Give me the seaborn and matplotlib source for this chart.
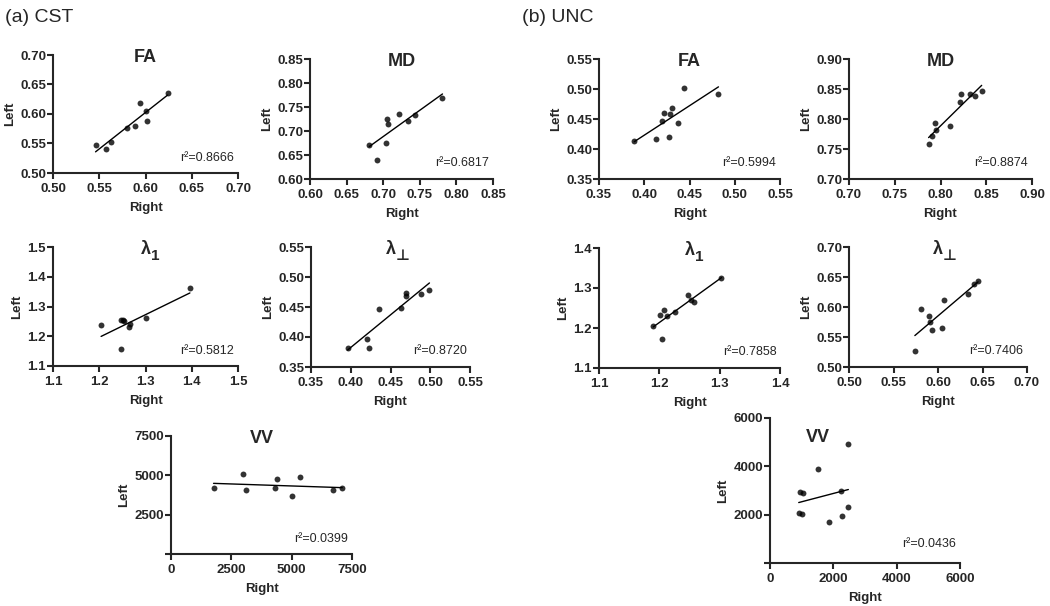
import matplotlib
matplotlib.use('Agg')
import matplotlib.pyplot as plt
import seaborn as sns
import numpy as np

sns.set_style('ticks')
plt.rcParams['font.family'] = ['Liberation Sans', 'DejaVu Sans']

TICK_FONT = dict(fontsize=9.5, fontweight='bold')

# ---- data: Right (x) vs Left (y) ----
cst_fa_right = [0.546, 0.557, 0.563, 0.580, 0.589, 0.594, 0.600, 0.602, 0.624]
cst_fa_left = [0.547, 0.540, 0.553, 0.576, 0.580, 0.619, 0.605, 0.588, 0.636]

cst_md_right = [0.681, 0.692, 0.704, 0.705, 0.707, 0.722, 0.734, 0.744, 0.781]
cst_md_left = [0.670, 0.639, 0.674, 0.726, 0.715, 0.736, 0.720, 0.733, 0.769]

cst_l1_right = [1.204, 1.247, 1.251, 1.253, 1.264, 1.267, 1.302, 1.396, 1.247]
cst_l1_left = [1.238, 1.254, 1.254, 1.251, 1.230, 1.241, 1.261, 1.363, 1.156]

cst_lp_right = [0.396, 0.423, 0.420, 0.435, 0.463, 0.469, 0.470, 0.488, 0.499]
cst_lp_left = [0.381, 0.382, 0.397, 0.446, 0.448, 0.469, 0.474, 0.471, 0.478]

cst_vv_right = [1763, 2986, 3097, 4319, 4375, 5000, 5333, 6696, 7097]
cst_vv_left = [4177, 5063, 4095, 4177, 4791, 3715, 4895, 4051, 4177]

unc_fa_right = [0.389, 0.413, 0.420, 0.422, 0.427, 0.429, 0.431, 0.437, 0.444, 0.482]
unc_fa_left = [0.413, 0.417, 0.446, 0.460, 0.420, 0.458, 0.469, 0.443, 0.501, 0.492]

unc_md_right = [0.787, 0.791, 0.794, 0.795, 0.810, 0.821, 0.822, 0.832, 0.838, 0.845]
unc_md_left = [0.758, 0.772, 0.793, 0.781, 0.788, 0.828, 0.841, 0.842, 0.839, 0.846]

unc_l1_right = [1.190, 1.201, 1.205, 1.208, 1.212, 1.226, 1.247, 1.252, 1.257, 1.303]
unc_l1_left = [1.204, 1.233, 1.173, 1.244, 1.229, 1.240, 1.282, 1.269, 1.266, 1.325]

unc_lp_right = [0.574, 0.581, 0.590, 0.591, 0.593, 0.604, 0.607, 0.634, 0.640, 0.645]
unc_lp_left = [0.527, 0.597, 0.585, 0.575, 0.561, 0.565, 0.611, 0.622, 0.639, 0.644]

unc_vv_right = [2455, 1507, 948, 1043, 2234, 2474, 907, 1001, 2283, 1864]
unc_vv_left = [4912, 3877, 2926, 2897, 2967, 2317, 2069, 2040, 1945, 1697]

W, H = 1050, 606
fig = plt.figure(figsize=(W / 100, H / 100), dpi=100)


def add_panel(box, right, left, xticks, yticks, fmt, title, r2, sub=None,
              hide_y0=False, title_xy=(0.5, 0.98)):
    l, r, t, b = box
    ax = fig.add_axes([l / W, 1 - b / H, (r - l) / W, (b - t) / H])
    sns.regplot(x=np.array(right), y=np.array(left), ax=ax, ci=None, color='black',
                scatter_kws=dict(s=18, linewidths=0), line_kws=dict(lw=1))
    ax.set_xlim(xticks[0], xticks[-1])
    ax.set_ylim(yticks[0], yticks[-1])
    ax.set_xticks(xticks)
    ax.set_yticks(yticks)
    ylabels = [fmt % v for v in yticks]
    if hide_y0:
        ylabels[0] = ''
    ax.set_xticklabels([fmt % v for v in xticks], **TICK_FONT)
    ax.set_yticklabels(ylabels, **TICK_FONT)
    ax.set_xlabel('Right', fontsize=9.5, fontweight='bold', labelpad=5)
    ax.set_ylabel('Left', fontsize=9.5, fontweight='bold', labelpad=3)
    for s in ['top', 'right']:
        ax.spines[s].set_visible(False)
    for s in ['left', 'bottom']:
        ax.spines[s].set_linewidth(1.5)
    ax.tick_params(direction='out', length=4, width=1.5)
    ax.tick_params(axis='x', pad=3)
    ax.tick_params(axis='y', pad=1)
    tt = ax.text(title_xy[0], title_xy[1], title, transform=ax.transAxes, ha='center',
                 va='center', fontsize=13, fontweight='bold')
    if sub:
        ax.annotate(sub, xy=(1.0, 0.1), xycoords=tt, ha='left', va='center',
                    fontsize=11, fontweight='bold')
    ax.text(0.98, 0.13, r2, transform=ax.transAxes, ha='right', va='center', fontsize=9)
    return ax


add_panel((53, 238, 55, 173), cst_fa_right, cst_fa_left,
          [0.50, 0.55, 0.60, 0.65, 0.70], [0.50, 0.55, 0.60, 0.65, 0.70], '%.2f', 'FA', 'r²=0.8666')
add_panel((310, 493, 59, 179), cst_md_right, cst_md_left,
          [0.60, 0.65, 0.70, 0.75, 0.80, 0.85], [0.60, 0.65, 0.70, 0.75, 0.80, 0.85], '%.2f', 'MD', 'r²=0.6817')
add_panel((53, 238, 247, 366), cst_l1_right, cst_l1_left,
          [1.1, 1.2, 1.3, 1.4, 1.5], [1.1, 1.2, 1.3, 1.4, 1.5], '%.1f', 'λ', 'r²=0.5812', sub='1')
add_panel((311, 470, 247, 367), cst_lp_right, cst_lp_left,
          [0.35, 0.40, 0.45, 0.50, 0.55], [0.35, 0.40, 0.45, 0.50, 0.55], '%.2f', 'λ', 'r²=0.8720', sub='⊥')
add_panel((171, 352, 436, 554), cst_vv_right, cst_vv_left,
          [0, 2500, 5000, 7500], [0, 2500, 5000, 7500], '%d', 'VV', 'r²=0.0399', hide_y0=True)

add_panel((599, 780, 59, 179), unc_fa_right, unc_fa_left,
          [0.35, 0.40, 0.45, 0.50, 0.55], [0.35, 0.40, 0.45, 0.50, 0.55], '%.2f', 'FA', 'r²=0.5994')
add_panel((849, 1032, 59, 179), unc_md_right, unc_md_left,
          [0.70, 0.75, 0.80, 0.85, 0.90], [0.70, 0.75, 0.80, 0.85, 0.90], '%.2f', 'MD', 'r²=0.8874')
add_panel((599, 780, 248, 368), unc_l1_right, unc_l1_left,
          [1.1, 1.2, 1.3, 1.4], [1.1, 1.2, 1.3, 1.4], '%.1f', 'λ', 'r²=0.7858', sub='1')
add_panel((849, 1027, 247, 367), unc_lp_right, unc_lp_left,
          [0.50, 0.55, 0.60, 0.65, 0.70], [0.50, 0.55, 0.60, 0.65, 0.70], '%.2f', 'λ', 'r²=0.7406', sub='⊥')
add_panel((770, 960, 418, 563), unc_vv_right, unc_vv_left,
          [0, 2000, 4000, 6000], [0, 2000, 4000, 6000], '%d', 'VV', 'r²=0.0436',
          hide_y0=True, title_xy=((818 - 770) / 190, (563 - 438) / 145))

fig.text(5 / W, 1 - 18 / H, '(a) CST', fontsize=14, va='center', ha='left')
fig.text(522 / W, 1 - 18 / H, '(b) UNC', fontsize=14, va='center', ha='left')

fig.savefig('out.png', dpi=100)
